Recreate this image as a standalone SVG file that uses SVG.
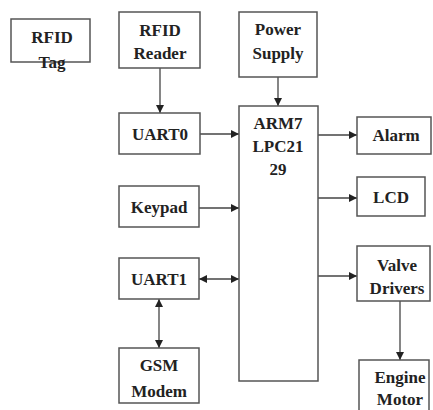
<svg xmlns="http://www.w3.org/2000/svg" width="433" height="410" viewBox="0 0 433 410">
<style>
.box{fill:#fff;stroke:#555;stroke-width:1.5}
.t{font-family:"Liberation Serif","Times New Roman",serif;font-weight:bold;font-size:17px;fill:#222;text-anchor:middle}
.c{stroke:#444;stroke-width:1.3;fill:none}
</style>
<defs>
<marker id="ah" viewBox="0 0 8 8" refX="8" refY="4" markerWidth="8" markerHeight="8" markerUnits="userSpaceOnUse" orient="auto-start-reverse">
<path d="M0,0 L8,4 L0,8 z" fill="#222"/>
</marker>
</defs>
<rect width="433" height="410" fill="#fff"/>
<g id="connectors">
<line class="c" x1="160" y1="68" x2="160" y2="113" marker-end="url(#ah)"/>
<line class="c" x1="278" y1="77" x2="278" y2="106" marker-end="url(#ah)"/>
<line class="c" x1="200" y1="134" x2="239" y2="134" marker-end="url(#ah)"/>
<line class="c" x1="199" y1="208" x2="239" y2="208" marker-end="url(#ah)"/>
<line class="c" x1="199" y1="279" x2="239" y2="279" marker-start="url(#ah)" marker-end="url(#ah)"/>
<line class="c" x1="159" y1="299" x2="159" y2="348" marker-start="url(#ah)" marker-end="url(#ah)"/>
<line class="c" x1="318" y1="135" x2="357" y2="135" marker-end="url(#ah)"/>
<line class="c" x1="318" y1="198" x2="357" y2="198" marker-end="url(#ah)"/>
<line class="c" x1="318" y1="276" x2="357" y2="276" marker-end="url(#ah)"/>
<line class="c" x1="400" y1="301" x2="400" y2="360" marker-end="url(#ah)"/>
</g>
<g id="rfid-tag">
<rect class="box" x="11" y="19" width="79" height="43"/>
<text class="t" x="52" y="43">RFID</text>
<text class="t" x="52" y="68">Tag</text>
</g>
<g id="rfid-reader">
<rect class="box" x="119" y="12" width="81" height="56"/>
<text class="t" x="160" y="36">RFID</text>
<text class="t" x="160" y="59">Reader</text>
</g>
<g id="power-supply">
<rect class="box" x="239" y="12" width="78" height="65"/>
<text class="t" x="278" y="35">Power</text>
<text class="t" x="278" y="59">Supply</text>
</g>
<g id="uart0">
<rect class="box" x="119" y="113" width="81" height="41"/>
<text class="t" x="160" y="140">UART0</text>
</g>
<g id="arm7">
<rect class="box" x="239" y="106" width="79" height="275"/>
<text class="t" x="278" y="129">ARM7</text>
<text class="t" x="278" y="152">LPC21</text>
<text class="t" x="278" y="175">29</text>
</g>
<g id="alarm">
<rect class="box" x="357" y="117" width="74" height="37"/>
<text class="t" x="396" y="141">Alarm</text>
</g>
<g id="lcd">
<rect class="box" x="357" y="177" width="68" height="39"/>
<text class="t" x="391" y="203">LCD</text>
</g>
<g id="keypad">
<rect class="box" x="119" y="186" width="80" height="41"/>
<text class="t" x="159" y="213">Keypad</text>
</g>
<g id="uart1">
<rect class="box" x="119" y="258" width="80" height="41"/>
<text class="t" x="159" y="285">UART1</text>
</g>
<g id="valve-drivers">
<rect class="box" x="357" y="246" width="73" height="55"/>
<text class="t" x="397" y="271">Valve</text>
<text class="t" x="397" y="294">Drivers</text>
</g>
<g id="gsm-modem">
<rect class="box" x="119" y="348" width="80" height="55"/>
<text class="t" x="159" y="371">GSM</text>
<text class="t" x="159" y="397">Modem</text>
</g>
<g id="engine-motor">
<rect class="box" x="359" y="360" width="70" height="60"/>
<text class="t" x="400" y="383">Engine</text>
<text class="t" x="400" y="405">Motor</text>
</g>
</svg>
